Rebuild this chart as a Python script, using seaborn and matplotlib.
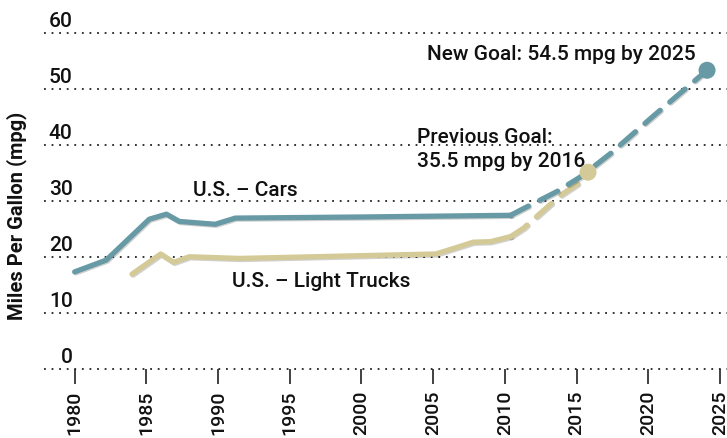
import numpy as np
import pandas as pd
import seaborn as sns
from matplotlib import pyplot as plt
import matplotlib.patheffects as pe

#%% data

cars_years = [1980, 1982.2, 1985.2, 1986.4, 1987.3, 1989.8, 1991.2, 2000, 2010.4]
cars_mpg = [17.4, 19.5, 26.8, 27.7, 26.4, 25.9, 27.0, 27.2, 27.5]

cars_goal_years = [2010.4, 2011.3, 2013.6, 2015.3, 2017.4, 2020.3, 2024.1]
cars_goal_mpg = [27.5, 28.7, 31.7, 34.4, 38.6, 45.1, 53.4]

trucks_years = [1984, 1986, 1986.9, 1988, 1991.5, 2005.2, 2007.8, 2009, 2010.4]
trucks_mpg = [17.0, 20.6, 19.1, 20.1, 19.8, 20.6, 22.7, 22.8, 23.7]

trucks_goal_years = [2010.4, 2011.3, 2012.4, 2013.9, 2015.3, 2015.8]
trucks_goal_mpg = [23.7, 25.2, 27.7, 31.1, 33.5, 35.2]

x_ticks = [1980, 1985, 1990, 1995, 2000, 2005, 2010, 2015, 2020, 2025]
y_ticks = [0, 10, 20, 30, 40, 50, 60]

cars_color = '#689aa5'
trucks_color = '#d4ca98'

#%% plot

sns.set_style('white')
plt.rcParams['font.family'] = ['Roboto', 'DejaVu Sans']

fig = plt.figure(figsize=(7.27, 4.38), dpi=100)
ax = fig.add_axes([44/727, 68.7/438, 683/727, 336/438])

shadow = [pe.SimpleLineShadow(offset=(0.8, -0.8), alpha=0.18), pe.Normal()]

sns.lineplot(x=cars_years, y=cars_mpg, ax=ax, color=cars_color, lw=3.8,
             solid_capstyle='round', solid_joinstyle='round', path_effects=shadow)
sns.lineplot(x=trucks_years, y=trucks_mpg, ax=ax, color=trucks_color, lw=3.8,
             solid_capstyle='round', solid_joinstyle='round', path_effects=shadow)

sns.lineplot(x=trucks_goal_years, y=trucks_goal_mpg, ax=ax, color=trucks_color, lw=3.8,
             linestyle=(0, (3.8, 2.4)), dash_capstyle='round', path_effects=shadow)
sns.lineplot(x=cars_goal_years, y=cars_goal_mpg, ax=ax, color=cars_color, lw=3.8,
             linestyle=(0, (3.8, 2.4)), dash_capstyle='round', path_effects=shadow)

# goal end points
sns.scatterplot(x=[cars_goal_years[-1]], y=[cars_goal_mpg[-1]], ax=ax, s=150,
                color=cars_color, edgecolor='none', zorder=5)
sns.scatterplot(x=[trucks_goal_years[-1]], y=[trucks_goal_mpg[-1]], ax=ax, s=150,
                color=trucks_color, edgecolor='none', zorder=5)

ax.set_xlim(1977.86, 2025.49)
ax.set_ylim(0, 60)

ax.set_yticks(y_ticks)
ax.set_yticklabels([])
ax.tick_params(axis='y', length=0)
ax.grid(axis='y', color='#222222', linestyle=(0, (1, 3.2)), linewidth=1.3)
for gl in ax.get_ygridlines():
    gl.set_clip_on(False)
ax.grid(axis='x', visible=False)

txt = dict(fontsize=15, fontweight='medium', color='#111111')

for v in y_ticks:
    ax.text(1979.85, v + 1.15, str(v), ha='right', va='baseline', **txt)

ax.set_xticks(x_ticks)
ax.set_xticklabels([str(t) for t in x_ticks], rotation=90, va='top',
                   fontsize=14, fontweight='medium', color='#111111')
ax.tick_params(axis='x', direction='out', length=10.5, width=1.3, color='#333333', pad=5,
               bottom=True)

for s in ax.spines.values():
    s.set_visible(False)

fig.text(16.5/727, 1 - 216/438, 'Miles Per Gallon (mpg)', rotation=90, ha='center', va='center',
         fontsize=14.5, fontweight='bold', color='#111111')

ax.text(1988.25, 32.0, 'U.S. – Cars', va='center', ha='left', **txt)
ax.text(1991.0, 15.6, 'U.S. – Light Trucks', va='center', ha='left', **txt)
ax.text(2004.6, 56.3, 'New Goal: 54.5 mpg by 2025', va='center', ha='left', **txt)
ax.text(2003.85, 39.25, 'Previous Goal:\n35.5 mpg by 2016', va='center', ha='left',
        linespacing=1.3, **txt)

plt.savefig('out.png', dpi=100)
